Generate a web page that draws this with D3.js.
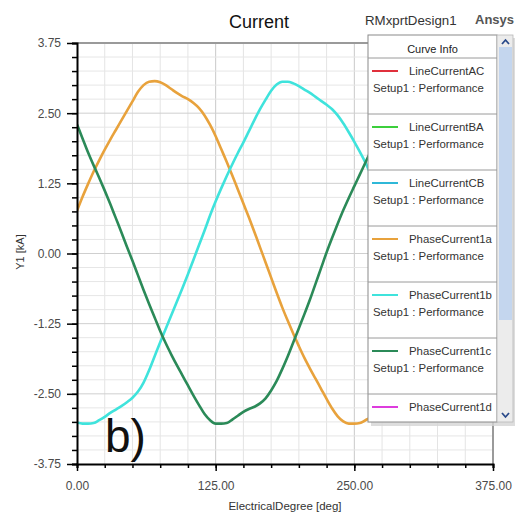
<!DOCTYPE html>
<html>
<head>
<meta charset="utf-8">
<script src="https://cdn.jsdelivr.net/npm/d3@7"></script>
<style>
  html, body { margin: 0; padding: 0; background: #fff; }
  svg { display: block; font-family: "Liberation Sans", Arial, sans-serif; }
</style>
</head>
<body>
<svg id="chart" width="515" height="518"></svg>
<script>
// Electrical degree samples (deg)
const degrees = [0,5,10,15,20,25,30,35,40,45,50,55,60,65,70,75,80,85,90,95,100,105,110,115,120,125,130,135,140,145,150,155,160,165,170,175,180,185,190,195,200,205,210,215,220,225,230,235,240,245,250,255,260,265,270];

// Phase currents (kA)
const phaseCurrent1a = [0.76,1.01,1.24,1.46,1.66,1.85,2.03,2.20,2.37,2.54,2.71,2.88,3.00,3.06,3.07,3.05,3.00,2.93,2.86,2.80,2.75,2.68,2.59,2.46,2.29,2.09,1.86,1.63,1.39,1.14,0.89,0.64,0.38,0.11,-0.16,-0.43,-0.70,-0.96,-1.20,-1.43,-1.65,-1.86,-2.05,-2.23,-2.41,-2.59,-2.76,-2.90,-2.99,-3.03,-3.03,-3.02,-2.97,-2.92,-2.88];
const phaseCurrent1b = [-3.01,-3.03,-3.03,-3.02,-2.97,-2.91,-2.84,-2.78,-2.72,-2.65,-2.57,-2.46,-2.30,-2.08,-1.83,-1.58,-1.34,-1.10,-0.86,-0.62,-0.37,-0.11,0.15,0.41,0.68,0.93,1.16,1.38,1.59,1.79,1.98,2.18,2.38,2.57,2.74,2.90,3.01,3.06,3.06,3.03,2.98,2.92,2.86,2.79,2.72,2.65,2.57,2.46,2.32,2.16,1.99,1.81,1.62,1.40,1.17];
const phaseCurrent1c = [2.30,2.05,1.80,1.57,1.35,1.12,0.88,0.63,0.38,0.12,-0.13,-0.39,-0.65,-0.90,-1.14,-1.38,-1.60,-1.80,-1.99,-2.17,-2.35,-2.53,-2.70,-2.86,-2.97,-3.03,-3.03,-3.02,-2.96,-2.89,-2.82,-2.77,-2.73,-2.67,-2.58,-2.44,-2.27,-2.06,-1.83,-1.58,-1.33,-1.08,-0.82,-0.54,-0.26,0.02,0.28,0.53,0.77,0.99,1.20,1.41,1.62,1.83,2.03];

// Axis ticks
const xMajorTicks = [0, 125, 250, 375];
const xMinorTicks = d3.range(0, 376, 25);
const yMajorTicks = [-3.75, -2.5, -1.25, 0, 1.25, 2.5, 3.75];
const yMinorTicks = d3.range(-3.75, 3.76, 0.25);

// Legend entries
const legendNames = ["LineCurrentAC", "LineCurrentBA", "LineCurrentCB", "PhaseCurrent1a", "PhaseCurrent1b", "PhaseCurrent1c", "PhaseCurrent1d"];
const legendColors = ["#e0303c", "#3ccf3c", "#2fb8d8", "#e8a23c", "#3fe3dc", "#2b8a58", "#dd3cdd"];
const legendSub = "Setup1 : Performance";

const plotted = [
  { values: phaseCurrent1a, color: "#e8a23c" },
  { values: phaseCurrent1b, color: "#3fe3dc" },
  { values: phaseCurrent1c, color: "#2b8a58" }
];

const svg = d3.select("#chart");
const pLeft = 77, pRight = 493, pTop = 43, pBottom = 464;

const x = d3.scaleLinear().domain([0, 375]).range([pLeft, pRight]);
const y = d3.scaleLinear().domain([-3.75, 3.75]).range([pBottom, pTop]);

// Plain hyphen-minus for negative tick labels
const fmt2 = d => d.toFixed(2);

// Grid
const grid = svg.append("g");
grid.selectAll("line.gx").data(xMinorTicks.filter(d => d > 0 && d < 375)).join("line")
  .attr("x1", d => x(d)).attr("x2", d => x(d)).attr("y1", pTop).attr("y2", pBottom)
  .attr("stroke", d => d % 125 === 0 ? "#c9c9c9" : "#e4e4e4").attr("stroke-width", 1);
grid.selectAll("line.gy").data(yMinorTicks.filter(d => d > -3.7 && d < 3.7)).join("line")
  .attr("x1", pLeft).attr("x2", pRight).attr("y1", d => y(d)).attr("y2", d => y(d))
  .attr("stroke", d => Math.abs(d / 1.25 - Math.round(d / 1.25)) < 1e-6 ? "#cfcfcf" : "#e6e6e6").attr("stroke-width", 1);

// Frame (top and right)
svg.append("line").attr("x1", pLeft).attr("x2", pRight).attr("y1", pTop).attr("y2", pTop)
  .attr("stroke", "#9a9a9a").attr("stroke-width", 2);
svg.append("line").attr("x1", pRight).attr("x2", pRight).attr("y1", pTop).attr("y2", pBottom)
  .attr("stroke", "#9a9a9a").attr("stroke-width", 2);

// Curves
svg.append("clipPath").attr("id", "plotClip").append("rect")
  .attr("x", pLeft).attr("y", pTop).attr("width", pRight - pLeft).attr("height", pBottom - pTop);
const line = d3.line().x((d, i) => x(degrees[i])).y(d => y(d)).curve(d3.curveMonotoneX);
svg.append("g").attr("clip-path", "url(#plotClip)")
  .selectAll("path").data(plotted).join("path")
  .attr("d", s => line(s.values))
  .attr("fill", "none").attr("stroke", s => s.color)
  .attr("stroke-width", 2.6).attr("stroke-linejoin", "round").attr("stroke-linecap", "round");

// Axes
const axisStyle = g => {
  g.selectAll(".domain").attr("stroke", "#000").attr("stroke-width", 2);
  g.selectAll(".tick line").attr("stroke", "#000").attr("stroke-width", 1.5);
  g.selectAll("text").attr("fill", "#4a4a4a").style("font-size", "12px")
    .style("font-family", "'Liberation Sans', Arial, sans-serif");
};
svg.append("g").attr("transform", `translate(0,${pBottom})`)
  .call(d3.axisBottom(x).tickValues(xMinorTicks).tickSize(4).tickFormat(""))
  .call(axisStyle);
svg.append("g").attr("transform", `translate(0,${pBottom})`)
  .call(d3.axisBottom(x).tickValues(xMajorTicks).tickSize(7).tickPadding(10).tickFormat(fmt2))
  .call(axisStyle).call(g => g.select(".domain").remove());
svg.append("g").attr("transform", `translate(${pLeft},0)`)
  .call(d3.axisLeft(y).tickValues(yMinorTicks).tickSize(5).tickFormat(""))
  .call(axisStyle);
svg.append("g").attr("transform", `translate(${pLeft},0)`)
  .call(d3.axisLeft(y).tickValues(yMajorTicks).tickSize(10).tickPadding(6).tickFormat(fmt2))
  .call(axisStyle).call(g => g.select(".domain").remove());

// Axis titles
svg.append("text").attr("x", 285).attr("y", 510).attr("text-anchor", "middle")
  .attr("fill", "#333").style("font-size", "11.5px").text("ElectricalDegree [deg]");
svg.append("text").attr("transform", "translate(24,252) rotate(-90)").attr("text-anchor", "middle")
  .attr("fill", "#333").style("font-size", "11px").text("Y1 [kA]");

// Titles
svg.append("text").attr("x", 259).attr("y", 28).attr("text-anchor", "middle")
  .attr("fill", "#111").style("font-size", "18px").text("Current");
svg.append("text").attr("x", 365).attr("y", 25)
  .attr("fill", "#333").style("font-size", "13.3px").text("RMxprtDesign1");
svg.append("text").attr("x", 475).attr("y", 24)
  .attr("fill", "#555").style("font-size", "13px").style("font-weight", "bold").text("Ansys");

// Panel label
svg.append("text").attr("x", 105).attr("y", 452)
  .attr("fill", "#111").style("font-size", "46px").text("b)");

// Legend panel with scrollbar
const lg = svg.append("g");
const lx = 368, ly = 35, lw = 129, lh = 387;
lg.append("rect").attr("x", lx + 3).attr("y", ly + 3).attr("width", lw + 16).attr("height", lh + 1)
  .attr("fill", "#d4d4d4").attr("opacity", 0.8);
lg.append("rect").attr("x", lx).attr("y", ly).attr("width", lw).attr("height", lh)
  .attr("fill", "#fff").attr("stroke", "#8a8a8a").attr("stroke-width", 1);
// scrollbar track and thumb
lg.append("rect").attr("x", lx + lw).attr("y", ly).attr("width", 16).attr("height", lh)
  .attr("fill", "#ececec").attr("stroke", "#b8b8b8").attr("stroke-width", 0.8);
lg.append("rect").attr("x", lx + lw + 2).attr("y", ly + 12).attr("width", 13).attr("height", 273)
  .attr("fill", "#c4d6ee");
lg.append("path").attr("d", `M${lx + lw + 5},${ly + 9} L${lx + lw + 8.5},${ly + 5} L${lx + lw + 12},${ly + 9}`)
  .attr("fill", "none").attr("stroke", "#2a4a8a").attr("stroke-width", 1.8);
lg.append("path").attr("d", `M${lx + lw + 5},${ly + lh - 9} L${lx + lw + 8.5},${ly + lh - 5} L${lx + lw + 12},${ly + lh - 9}`)
  .attr("fill", "none").attr("stroke", "#2a4a8a").attr("stroke-width", 1.8);

lg.append("text").attr("x", lx + lw / 2).attr("y", 53).attr("text-anchor", "middle")
  .attr("fill", "#222").style("font-size", "11px").text("Curve Info");
lg.append("line").attr("x1", lx).attr("x2", lx + lw).attr("y1", 58).attr("y2", 58)
  .attr("stroke", "#9a9a9a").attr("stroke-width", 1);

const rowH = 56;
legendNames.forEach((name, i) => {
  const y0 = 58 + i * rowH;
  lg.append("line").attr("x1", 372).attr("x2", 398).attr("y1", y0 + 13).attr("y2", y0 + 13)
    .attr("stroke", legendColors[i]).attr("stroke-width", 2);
  lg.append("text").attr("x", 409).attr("y", y0 + 17).attr("fill", "#333")
    .style("font-size", "11.4px").text(name);
  if (i < legendNames.length - 1) {
    lg.append("text").attr("x", 373).attr("y", y0 + 34).attr("fill", "#333")
      .style("font-size", "11.4px").text(legendSub);
    lg.append("line").attr("x1", lx).attr("x2", lx + lw).attr("y1", y0 + rowH).attr("y2", y0 + rowH)
      .attr("stroke", "#9a9a9a").attr("stroke-width", 1);
  }
});
</script>
</body>
</html>
